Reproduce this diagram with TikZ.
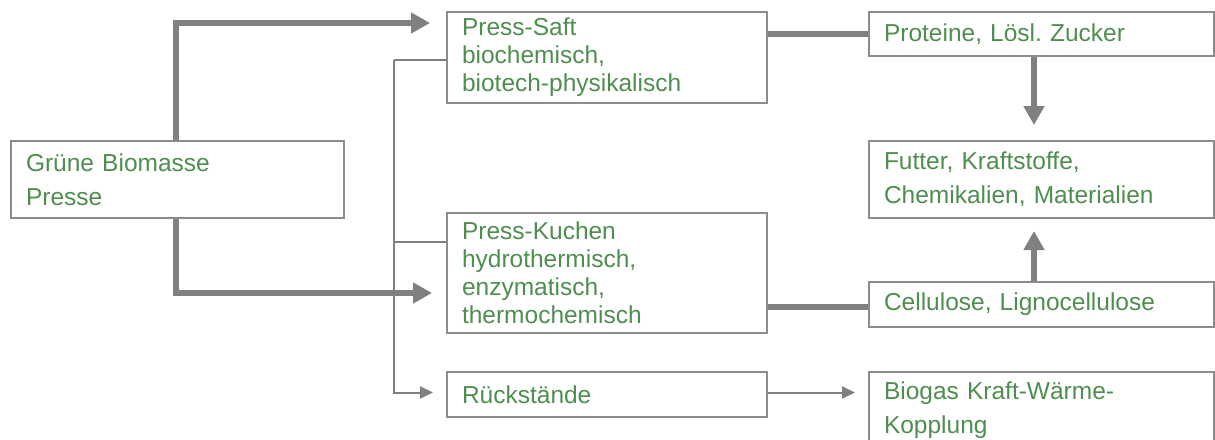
\documentclass[tikz,border=0pt]{standalone}
\usepackage{fontspec}
\setmainfont{Liberation Sans}
\usetikzlibrary{arrows.meta,calc}
\frenchspacing
\definecolor{txtgreen}{RGB}{78,142,78}
\definecolor{linegray}{RGB}{128,128,128}
\definecolor{framegray}{RGB}{140,140,140}
\tikzset{
  box/.style={draw=framegray, line width=2pt, anchor=north west,
    inner xsep=15pt, inner ysep=0pt, align=left, text=txtgreen,
    font=\fontsize{24.5}{28}\selectfont},
  widebox/.style={box, font=\fontsize{24.5}{34}\selectfont},
  heavy/.style={draw=linegray, line width=6pt},
  heavyarrow/.style={heavy, -{Triangle[length=19pt,width=20pt]}},
  light/.style={draw=linegray, line width=2pt},
  lightarrow/.style={light, -{Triangle[length=13pt,width=12pt]}}
}
\begin{document}
\begin{tikzpicture}[x=1pt,y=-1pt]
\useasboundingbox (0,0) rectangle (1215,439);
\clip (0,0) rectangle (1215,439);

% process boxes
\node[widebox, text width=303pt, minimum height=77pt] (bio) at (10,140)
  {Grüne Biomasse\\Presse};
\node[box, text width=290pt, minimum height=91pt] (saft) at (446,11)
  {Press-Saft\\biochemisch,\\biotech-physikalisch};
\node[box, text width=290pt, minimum height=120pt] (kuchen) at (446,212)
  {Press-Kuchen\\hydrothermisch,\\enzymatisch,\\thermochemisch};
\node[box, text width=290pt, minimum height=45pt] (rueck) at (446,371)
  {Rückstände};

% product boxes
\node[box, text width=315pt, minimum height=44pt] (prot) at (868,11)
  {Proteine, Lösl. Zucker};
\node[widebox, text width=315pt, minimum height=77pt] (futter) at (868,140)
  {Futter, Kraftstoffe,\\Chemikalien, Materialien};
\node[box, text width=315pt, minimum height=45pt] (cell) at (868,281)
  {Cellulose, Lignocellulose};
\node[widebox, text width=315pt, minimum height=77pt] (biogas) at (868,371)
  {Biogas Kraft-Wärme-\\Kopplung};

% main split of the pressed biomass
\draw[heavyarrow] ([xshift=166pt]bio.north west)
  |- ([xshift=-16pt,yshift=-12pt]saft.north west);
\draw[heavyarrow] ([xshift=166pt]bio.south west)
  |- ([xshift=-14pt,yshift=-81pt]kuchen.north west);

% side branch feeding the residues
\coordinate (j) at ([xshift=-52pt,yshift=-49pt]saft.north west);
\coordinate (k) at ([yshift=-30pt]kuchen.north west);
\draw[light] ([yshift=-49pt]saft.north west) -- (j);
\draw[light] (k) -- (k -| j);
\draw[lightarrow] (j) |- ([xshift=-13pt,yshift=2pt]rueck.west);

% residues to biogas
\draw[lightarrow, shorten >=13pt] ([yshift=2pt]rueck.east) -- ([yshift=2pt]rueck.east -| biogas.west);

% fractions
\draw[heavy] (prot.west -| saft.east) -- (prot.west);
\draw[heavy] ([yshift=-2pt]cell.west -| kuchen.east) -- ([yshift=-2pt]cell.west);

% products
\draw[heavyarrow, shorten >=15pt] ([xshift=166pt]prot.south west) -- ([xshift=166pt]futter.north west);
\draw[heavyarrow, shorten >=12pt] ([xshift=166pt]cell.north west) -- ([xshift=166pt]futter.south west);
\end{tikzpicture}
\end{document}
